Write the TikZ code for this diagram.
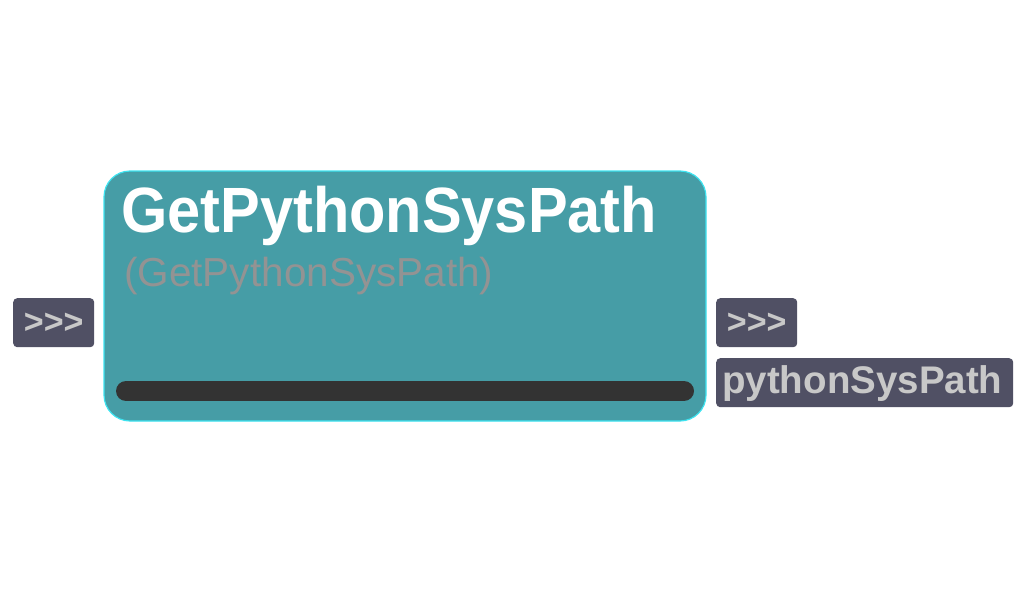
\documentclass[tikz,border=0pt]{standalone}
\usepackage{fontspec}
\setmainfont{Liberation Sans}
\definecolor{nodeteal}{HTML}{469DA6}
\definecolor{nodeedge}{HTML}{3DE3F0}
\definecolor{pinfill}{HTML}{505064}
\definecolor{pintext}{HTML}{C8C8C8}
\definecolor{subgray}{HTML}{939393}
\definecolor{bardark}{HTML}{333333}

\begin{document}
\begin{tikzpicture}[x=1pt, y=-1pt,
    pin/.style={fill=pinfill, rounded corners=4pt, inner sep=0pt, anchor=north west},
    pinlabel/.style={text=pintext, font=\bfseries\fontsize{34}{34}\selectfont, inner sep=0pt}]
  \useasboundingbox (0,0) rectangle (1030,594);
  % main block
  \draw[fill=nodeteal, draw=nodeedge, line width=1.2pt, rounded corners=26pt]
    (104,171) rectangle (706,421);
  \node[anchor=base west, inner sep=0pt, text=white, xscale=0.93,
    font=\bfseries\fontsize{64}{64}\selectfont] (title) at (121,232) {GetPythonSysPath};
  \node[anchor=base west, inner sep=0pt, text=subgray,
    font=\fontsize{40.5}{40.5}\selectfont] (subtitle) at (124,286) {(GetPythonSysPath)};
  \draw[bardark, line width=20pt, line cap=round] (126,391) -- (684,391);
  % pins
  \node[pin, minimum width=81pt, minimum height=49pt] (execin) at (13,298) {};
  \node[pinlabel] at ([yshift=-1pt]execin.center) {>{}>{}>};
  \node[pin, minimum width=81pt, minimum height=49pt] (execout) at (716,298) {};
  \node[pinlabel] at ([yshift=-1pt]execout.center) {>{}>{}>};
  \node[pin, minimum width=297pt, minimum height=49pt] (sysout) at (716,358) {};
  \node[pinlabel, font=\bfseries\fontsize{38.5}{38.5}\selectfont, anchor=base west]
    at (722,393) {pythonSysPath};
\end{tikzpicture}
\end{document}
